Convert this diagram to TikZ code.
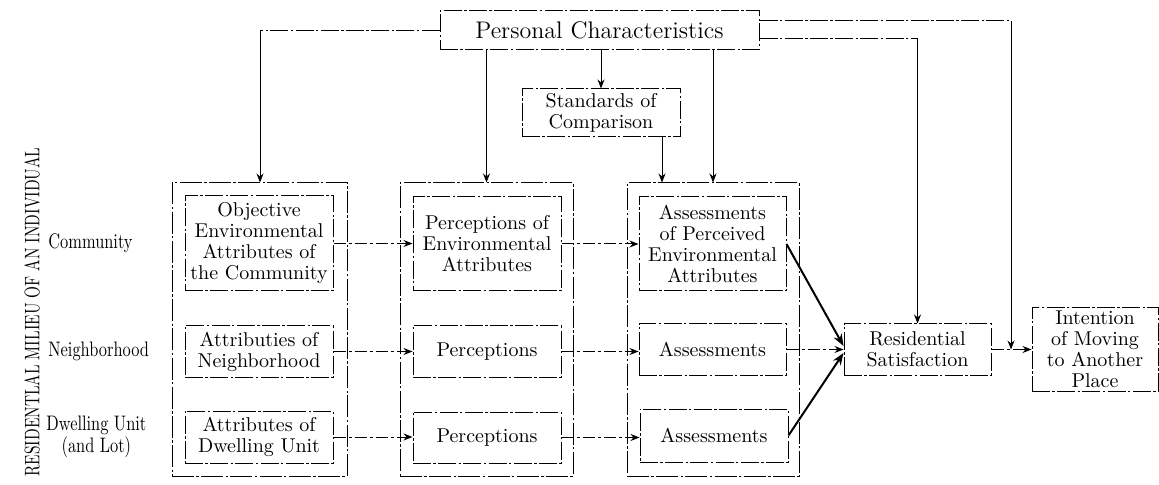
\documentclass[tikz,border=0pt]{standalone}
\usepackage{fontspec}
\usepackage{graphicx}
\usetikzlibrary{arrows.meta,calc}
\tikzset{
  px/.style={x=0.5pt,y=-0.5pt},
  bx/.style={draw,line width=0.5pt,dash pattern=on 9pt off 1.2pt on 1.2pt off 1.2pt,
    inner sep=0pt,align=center,font=\fontsize{10}{10.5}\selectfont},
  obx/.style={draw,line width=0.5pt,dash pattern=on 11pt off 1.2pt on 1.2pt off 1.2pt,inner sep=0pt},
  lbl/.style={inner sep=0pt,align=center,font=\fontsize{10.5}{10}\selectfont},
  tip/.style={-{Stealth[length=4.5pt,width=3.5pt]}},
  sa/.style={tip,line width=0.5pt},
  dd/.style={line width=0.5pt,dash pattern=on 9pt off 1.2pt on 1.2pt off 1.2pt},
  da/.style={tip,line width=0.5pt,dash pattern=on 6pt off 1.5pt on 1.5pt off 1.5pt},
  ha/.style={-{Stealth[length=6pt,width=4.5pt]},line width=1pt},
}
\begin{document}
\begin{tikzpicture}[px]
\useasboundingbox (0,0) rectangle (1159,485);
% outer column boxes
\node[obx,minimum width=87.5pt,minimum height=146.5pt] (o1) at (259.5,329.5) {};
\node[obx,minimum width=86.5pt,minimum height=146.5pt] (o2) at (486.5,329.5) {};
\node[obx,minimum width=86pt,minimum height=146.5pt] (o3) at (713,329.5) {};
% top boxes
\node[bx,minimum width=159.5pt,minimum height=19.5pt,font=\fontsize{12}{13}\selectfont] (pc) at (599.5,30.5) {Personal Characteristics};
\node[bx,minimum width=79pt,minimum height=24pt] (std) at (601,113) {Standards of\\Comparison};
% column 1
\node[bx,minimum width=74pt,minimum height=47.5pt] (c1) at (259,243.5) {Objective\\Environmental\\Attributes of\\the Community};
\node[bx,minimum width=74pt,minimum height=25.5pt] (n1) at (259,351.5) {Attributies of\\Neighborhood};
\node[bx,minimum width=74pt,minimum height=26pt] (d1) at (259,437) {Attributes of\\Dwelling Unit};
% column 2
\node[bx,minimum width=74pt,minimum height=47pt] (c2) at (487,244) {Perceptions of\\Environmental\\Attributes};
\node[bx,minimum width=74pt,minimum height=25.5pt] (n2) at (487,351.5) {Perceptions};
\node[bx,minimum width=74pt,minimum height=25.5pt] (d2) at (487,437.5) {Perceptions};
% column 3
\node[bx,minimum width=73.5pt,minimum height=47pt] (c3) at (712.5,244) {Assessments\\of Perceived\\Environmental\\Attributes};
\node[bx,minimum width=73.5pt,minimum height=25.5pt] (n3) at (712.5,349.5) {Assessments};
\node[bx,minimum width=74pt,minimum height=26.5pt] (d3) at (714,435.5) {Assessments};
% outcomes
\node[bx,minimum width=73.5pt,minimum height=25.5pt] (rs) at (917.5,349.5) {Residential\\Satisfaction};
\node[bx,minimum width=63pt,minimum height=41.5pt] (int) at (1095,349.5) {Intention\\of Moving\\to Another\\Place};
% left labels
\node[lbl,anchor=west] (lc) at (48,243) {\scalebox{0.78}[1]{Community}};
\node[lbl,anchor=west] (ln) at (48,351) {\scalebox{0.78}[1]{Neighborhood}};
\node[lbl,anchor=west] (ld) at (46,437) {\scalebox{0.78}[1]{Dwelling Unit}\\\scalebox{0.78}[1]{(and Lot)}};
\node[rotate=90,inner sep=0pt,font=\fontsize{10.5}{11}\selectfont] (vt) at (32,312) {\scalebox{0.73}[1]{RESIDENTLAL MILIEU OF AN INDIVIDUAL}};
% connectors from Personal Characteristics
\coordinate (k1) at (260,30.5);
\draw[dd] (pc.west) -- (k1);
\draw[sa] (k1) -- (k1 |- o1.north);
\draw[sa] (pc.south -| o2.north) -- (o2.north);
\draw[sa] (pc.south -| std.north) -- (std.north);
\draw[sa] ([xshift=30.5pt]std.south) -- ([xshift=30.5pt]std.south |- o3.north);
\draw[sa] (pc.south -| o3.north) -- (o3.north);
\coordinate (k2) at (1011,21);
\draw[dd] ([yshift=4.75pt]pc.east) -- (k2);
\draw[sa] (k2) -- (k2 |- rs.east);
\coordinate (k3) at (917.5,39);
\draw[dd] ([yshift=-4.25pt]pc.east) -- (k3);
\draw[sa] (k3) -- (rs.north);
\draw[da] (rs.east) -- (int.west);
% row connectors
\draw[da] (c1.east) -- (c1.east -| c2.west);
\draw[da] (c2.east) -- (c2.east -| c3.west);
\draw[da] (n1.east) -- (n1.east -| n2.west);
\draw[da] (n2.east) -- (n2.east -| n3.west);
\draw[da] (n3.east) -- (rs.west);
\draw[da] (d1.east) -- (d1.east -| d2.west);
\draw[da] (d2.east) -- (d2.east -| d3.west);
% heavy arrows
\draw[ha] (c3.east) -- ([yshift=1.75pt]rs.west);
\draw[ha] (d3.east) -- ([yshift=-1.75pt]rs.west);
\end{tikzpicture}
\end{document}
